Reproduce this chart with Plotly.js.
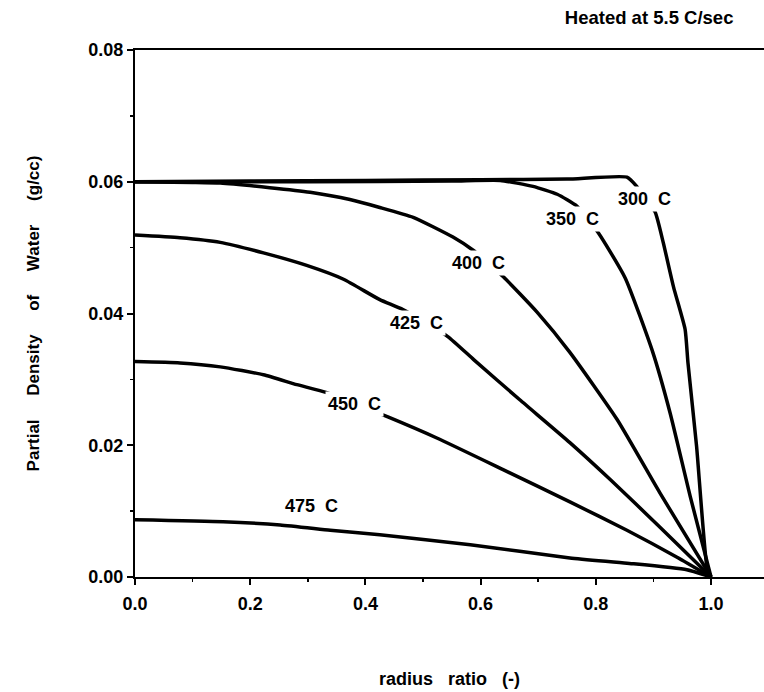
<!DOCTYPE html>
<html>
<head>
<meta charset="utf-8">
<script src="https://cdn.plot.ly/plotly-3.0.1.min.js"></script>
<style>html,body{margin:0;padding:0;background:#fff;}#chart{width:764px;height:692px;}</style>
</head>
<body>
<div id="chart"></div>
<script>
// Radius ratio / partial density (g/cc), one list pair per curve
const x300 = [0, 0.2, 0.4, 0.6, 0.75, 0.854, 0.871, 0.885, 0.903, 0.917, 0.935, 0.955, 0.960, 0.975, 0.993, 1.0];
const y300 = [0.0600, 0.0601, 0.0602, 0.0603, 0.0604, 0.0607, 0.0593, 0.0575, 0.0554, 0.0508, 0.0440, 0.0376, 0.0325, 0.0198, 0.0015, 0];

const x350 = [0, 0.3, 0.55, 0.634, 0.691, 0.733, 0.767, 0.804, 0.851, 0.899, 0.929, 0.964, 1.0];
const y350 = [0.0600, 0.0600, 0.0601, 0.0602, 0.0593, 0.0581, 0.0563, 0.0523, 0.0454, 0.0341, 0.0249, 0.0122, 0];

const x400 = [0, 0.1, 0.148, 0.234, 0.304, 0.373, 0.425, 0.483, 0.552, 0.587, 0.639, 0.698, 0.755, 0.837, 0.911, 1.0];
const y400 = [0.0600, 0.0599, 0.0598, 0.0591, 0.0584, 0.0573, 0.0561, 0.0546, 0.0516, 0.0496, 0.0456, 0.0402, 0.0341, 0.0239, 0.0128, 0];

const x425 = [0, 0.078, 0.148, 0.223, 0.298, 0.362, 0.425, 0.465, 0.543, 0.588, 0.668, 0.755, 0.825, 0.911, 1.0];
const y425 = [0.0519, 0.0515, 0.0508, 0.0492, 0.0473, 0.0452, 0.0421, 0.0406, 0.0365, 0.0330, 0.0269, 0.0204, 0.0148, 0.0076, 0];

const x450 = [0, 0.078, 0.148, 0.223, 0.281, 0.333, 0.439, 0.524, 0.639, 0.755, 0.854, 0.941, 1.0];
const y450 = [0.0327, 0.0325, 0.0319, 0.0307, 0.0292, 0.0280, 0.0243, 0.0211, 0.0163, 0.0114, 0.0071, 0.0030, 0];

const x475 = [0, 0.153, 0.252, 0.339, 0.425, 0.582, 0.755, 0.854, 0.958, 1.0];
const y475 = [0.0087, 0.0084, 0.0079, 0.0071, 0.0064, 0.0049, 0.0029, 0.0021, 0.0011, 0];

// Curve labels and where they sit on the curves
const labelText = ['300 C', '350 C', '400 C', '425 C', '450 C', '475 C'];
const labelX = [0.885, 0.759, 0.596, 0.488, 0.381, 0.306];
const labelY = [0.0574, 0.0544, 0.0477, 0.0386, 0.0263, 0.0108];

const FONT = 'Liberation Sans, Arial, Helvetica, sans-serif';
const series = [[x300, y300], [x350, y350], [x400, y400], [x425, y425], [x450, y450], [x475, y475]];
const traces = series.map((s, i) => ({
  x: s[0], y: s[1], type: 'scatter', mode: 'lines', name: labelText[i],
  line: {color: '#000', width: 3.5, shape: 'spline', smoothing: 0.5},
  hoverinfo: 'x+y+name'
}));

const annotations = labelText.map((t, i) => ({
  x: labelX[i], y: labelY[i], xref: 'x', yref: 'y',
  text: t.replace(' ', '\u00A0 '), showarrow: false,
  font: {family: FONT, size: 18, color: '#000', weight: 'bold'},
  bgcolor: '#fff', borderpad: 2, xanchor: 'center', yanchor: 'middle'
}));

const ygap = '\u00A0\u00A0\u00A0\u00A0 ';
const ypad = '\u00A0'.repeat(11);
const xgap = '\u00A0\u00A0 ';

const layout = {
  width: 764, height: 692,
  margin: {l: 135, r: 0, t: 50, b: 115},
  paper_bgcolor: '#fff', plot_bgcolor: '#fff',
  showlegend: false,
  font: {family: FONT, color: '#000', size: 18, weight: 'bold'},
  title: {
    text: 'Heated at 5.5 C/sec',
    font: {family: FONT, size: 18.5, color: '#000', weight: 'bold'},
    xref: 'container', yref: 'container',
    x: 0.96, xanchor: 'right', y: 0.975, yanchor: 'middle'
  },
  xaxis: {
    range: [0, 1.092], tick0: 0, dtick: 0.2, tickformat: '.1f',
    showgrid: false, zeroline: false,
    showline: true, linecolor: '#000', linewidth: 2, mirror: true,
    ticks: 'outside', ticklen: 6, tickwidth: 2, tickcolor: '#000',
    ticklabelstandoff: 3,
    minor: {dtick: 0.1, ticks: 'outside', ticklen: 3, tickwidth: 1.5, tickcolor: '#000', showgrid: false},
    tickfont: {family: FONT, size: 18, color: '#000', weight: 'bold'},
    title: {text: 'radius' + xgap + 'ratio' + xgap + '(-)', standoff: 60,
            font: {family: FONT, size: 18, color: '#000', weight: 'bold'}}
  },
  yaxis: {
    range: [0, 0.08], tick0: 0, dtick: 0.02, tickformat: '.2f',
    showgrid: false, zeroline: false,
    showline: true, linecolor: '#000', linewidth: 2,
    ticks: 'outside', ticklen: 6, tickwidth: 2, tickcolor: '#000',
    minor: {dtick: 0.01, ticks: 'outside', ticklen: 3, tickwidth: 1.5, tickcolor: '#000', showgrid: false},
    tickfont: {family: FONT, size: 18, color: '#000', weight: 'bold'},
    title: {text: 'Partial' + ygap + 'Density' + ygap + 'of' + ygap + 'Water' + ygap + '(g/cc)' + ypad, standoff: 44,
            font: {family: FONT, size: 17, color: '#000', weight: 'bold'}}
  },
  annotations: annotations
};

Plotly.newPlot('chart', traces, layout, {displayModeBar: false, staticPlot: true});
</script>
</body>
</html>
